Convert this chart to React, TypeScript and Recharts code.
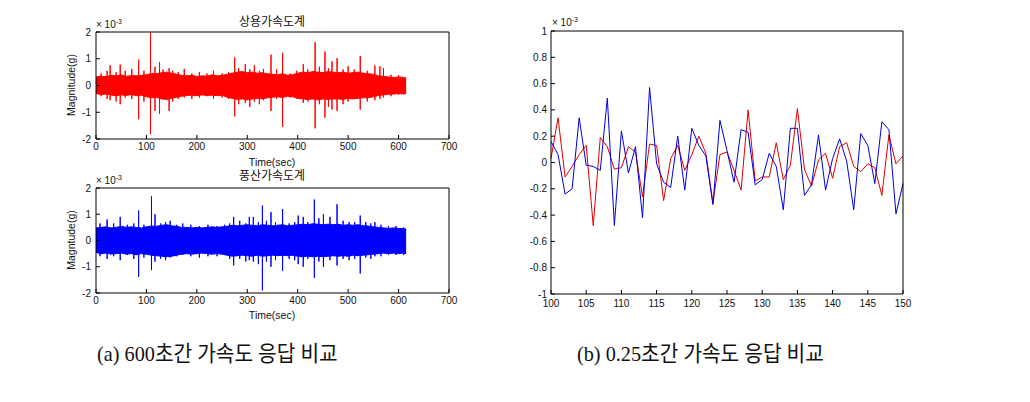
import React from 'react';
import { ComposedChart, Line, Area, XAxis, YAxis } from 'recharts';

// ---------- (a) 600 s records : envelope of dense signal + individual spikes ----------
const envTimes = [0,10,20,30,40,50,60,70,80,90,100,110,120,130,140,150,160,170,180,190,200,210,220,230,240,250,260,270,280,290,300,310,320,330,340,350,360,370,380,390,400,410,420,430,440,450,460,470,480,490,500,510,520,530,540,550,560,570,580,590,600,610,615];

const redHi = [0.32,0.35,0.33,0.38,0.36,0.4,0.34,0.37,0.36,0.38,0.4,0.45,0.44,0.48,0.5,0.46,0.42,0.38,0.36,0.38,0.34,0.36,0.35,0.4,0.36,0.38,0.42,0.46,0.5,0.52,0.48,0.5,0.46,0.48,0.44,0.42,0.4,0.44,0.38,0.4,0.46,0.5,0.48,0.52,0.5,0.48,0.52,0.5,0.48,0.5,0.46,0.48,0.5,0.46,0.44,0.42,0.36,0.34,0.32,0.3,0.32,0.3,0.28];
const redLo = [-0.3,-0.34,-0.32,-0.36,-0.38,-0.35,-0.37,-0.34,-0.38,-0.36,-0.42,-0.46,-0.45,-0.5,-0.52,-0.48,-0.44,-0.4,-0.37,-0.36,-0.38,-0.35,-0.37,-0.36,-0.38,-0.36,-0.44,-0.48,-0.52,-0.5,-0.54,-0.5,-0.48,-0.5,-0.46,-0.44,-0.42,-0.45,-0.4,-0.42,-0.48,-0.5,-0.52,-0.5,-0.54,-0.5,-0.52,-0.5,-0.5,-0.52,-0.48,-0.5,-0.48,-0.46,-0.46,-0.42,-0.38,-0.35,-0.33,-0.32,-0.3,-0.32,-0.3];

const blueHi = [0.48,0.5,0.52,0.48,0.5,0.54,0.5,0.52,0.5,0.48,0.52,0.55,0.54,0.58,0.6,0.56,0.54,0.5,0.5,0.48,0.5,0.48,0.5,0.52,0.5,0.52,0.54,0.58,0.56,0.58,0.6,0.58,0.56,0.6,0.58,0.56,0.58,0.6,0.56,0.58,0.6,0.62,0.6,0.64,0.62,0.6,0.62,0.6,0.62,0.58,0.6,0.58,0.6,0.56,0.55,0.52,0.5,0.48,0.46,0.48,0.46,0.45,0.44];
const blueLo = [-0.46,-0.5,-0.48,-0.52,-0.5,-0.48,-0.52,-0.5,-0.54,-0.5,-0.52,-0.56,-0.58,-0.6,-0.62,-0.6,-0.56,-0.52,-0.5,-0.52,-0.5,-0.48,-0.5,-0.52,-0.5,-0.52,-0.56,-0.6,-0.58,-0.56,-0.58,-0.6,-0.56,-0.6,-0.58,-0.56,-0.58,-0.56,-0.58,-0.56,-0.6,-0.62,-0.6,-0.62,-0.6,-0.62,-0.6,-0.58,-0.6,-0.58,-0.6,-0.56,-0.58,-0.56,-0.54,-0.52,-0.5,-0.48,-0.5,-0.48,-0.5,-0.48,-0.5];

// spikes: [time, peak up, peak down]
const redSpikes: number[][] = [
  [10,0.45,-0.4],[22,0.55,-0.5],[28,0.75,-0.55],[40,0.5,-0.6],[48,0.78,-0.7],[58,0.55,-0.45],[71,0.62,-0.5],
  [84.5,0.97,-1.26],[95,0.55,-0.6],[108,2.0,-1.82],[117,0.7,-0.95],[126,0.88,-1.05],[133,0.6,-0.5],[145,0.65,-0.95],
  [152,0.55,-0.6],[163,0.5,-0.5],[175,0.62,-0.45],[190,0.45,-0.5],[205,0.5,-0.45],[220,0.45,-0.4],[233,0.55,-0.5],
  [250,0.45,-0.45],[263,0.5,-0.5],[275,1.05,-1.15],[283,0.65,-0.7],[296,0.8,-0.65],[305,0.6,-0.8],[314,0.75,-0.6],
  [324,0.55,-0.7],[332,0.62,-0.55],[347,1.15,-0.95],[358,0.6,-0.5],[370,1.22,-1.55],[385,0.45,-0.45],[398,0.55,-0.5],
  [411,0.8,-0.65],[420,0.6,-0.6],[434.5,1.62,-1.6],[443,0.7,-0.7],[454,1.27,-1.2],[461,0.65,-0.8],[468,0.9,-0.9],
  [478,1.02,-0.95],[490,0.6,-0.7],[500,0.72,-0.6],[512,0.6,-0.5],[524,1.1,-0.9],[538,0.55,-0.6],[553,0.75,-0.55],
  [563,0.72,-0.5],[570,0.65,-0.45],[585,0.4,-0.4],[600,0.38,-0.35],
];
const blueSpikes: number[][] = [
  [8,0.65,-0.6],[22,0.8,-0.7],[35,0.65,-0.6],[48,0.9,-0.75],[62,0.6,-0.55],[75,0.65,-0.7],[84.5,1.14,-1.38],
  [95,0.6,-0.65],[110,1.68,-1.13],[117,1.0,-0.8],[128,0.65,-0.7],[138,0.7,-0.75],[147,0.75,-0.65],[160,0.6,-0.6],
  [172,0.65,-0.55],[188,0.6,-0.6],[205,0.55,-0.65],[222,0.6,-0.6],[240,0.55,-0.6],[255,0.6,-0.55],[265,0.65,-0.7],
  [273,0.9,-0.95],[285,0.75,-0.7],[297,0.65,-0.8],[304,0.9,-0.75],[312,0.9,-0.8],[322,0.7,-0.9],[330,1.33,-1.9],
  [338,0.75,-0.8],[347,1.08,-1.0],[356,0.7,-0.75],[370,1.2,-1.15],[383,0.65,-0.7],[394,0.7,-0.75],[401,0.95,-0.9],
  [411,0.9,-1.0],[420,0.7,-0.7],[433,1.56,-1.42],[442,0.85,-0.8],[451,1.0,-1.0],[464,0.9,-0.75],[478,1.38,-0.95],
  [490,0.75,-0.7],[502,0.7,-0.75],[513,0.7,-0.7],[524,0.95,-1.26],[535,0.7,-0.65],[545,0.65,-0.7],[553,0.7,-0.6],
  [565,0.6,-0.6],[580,0.55,-0.55],[595,0.55,-0.55],[610,0.5,-0.55],
];

const longXTicks = [0,100,200,300,400,500,600,700];
const longYTicks = [-2,-1,0,1,2];

// ---------- (b) 0.25 s comparison ----------
const shortT = [100,101,102,103,104,105,106,107,108,109,110,111,112,113,114,115,116,117,118,119,120,121,122,123,124,125,126,127,128,129,130,131,132,133,134,135,136,137,138,139,140,141,142,143,144,145,146,147,148,149,150];
const shortRed = [0.03,0.34,-0.11,-0.03,0.06,0.13,-0.48,0.19,0.12,-0.05,-0.04,0.12,0.08,-0.26,0.14,0.13,-0.29,0.03,0.13,-0.06,0.06,0.2,0.07,-0.31,0.06,0.08,-0.06,-0.21,0.4,-0.14,-0.11,-0.11,0.15,-0.13,-0.02,0.41,-0.05,-0.18,0.02,0.07,-0.12,0.12,0.15,-0.03,-0.07,-0.01,-0.04,-0.25,0.21,-0.01,0.05];
const shortBlue = [0.16,0.06,-0.24,-0.2,0.34,-0.02,-0.03,-0.06,0.49,-0.48,0.24,-0.08,0.12,-0.42,0.57,-0.01,-0.15,-0.19,0.2,-0.21,0.26,0.13,0.05,-0.32,0.32,0.09,-0.15,0.25,0.23,-0.17,-0.13,0.07,-0.03,-0.36,0.26,0.26,-0.25,-0.17,0.21,-0.21,0.03,0.18,0.01,-0.36,0.22,0.13,-0.16,0.31,0.25,-0.39,-0.16];
const shortXTicks = [100,105,110,115,120,125,130,135,140,145,150];
const shortYTicks = [-1,-0.8,-0.6,-0.4,-0.2,0,0.2,0.4,0.6,0.8,1];

const AX = '"Liberation Sans", Arial, sans-serif';
const KR = '"Noto Sans CJK KR", sans-serif';
const SERIF = '"Liberation Serif", "Noto Sans CJK KR", serif';
const tickStyle = { fontSize: 10, fill: '#111', fontFamily: AX };

function buildBand(hi: number[], lo: number[]) {
  return envTimes.map((t, i) => ({ t, range: [lo[i], hi[i]] }));
}
function buildSpikes(sp: number[][]) {
  const out: { t: number; v: number }[] = [];
  sp.forEach(([t, u, d]) => {
    out.push({ t, v: 0 }, { t, v: u }, { t, v: d }, { t, v: 0 });
  });
  return out;
}

function LongWrap({ top, color, hi, lo, spikes, h }: any) {
  const band = buildBand(hi, lo);
  const sp = buildSpikes(spikes);
  // plot area: x 96..449, y top..top+h
  return (
    <div style={{ position: 'absolute', left: 0, top: top - 10 }}>
      <ComposedChart width={460} height={h + 10 + 21} data={band}
        margin={{ top: 9, left: 56, right: 10, bottom: 1 }}>
        <XAxis xAxisId="b" dataKey="t" type="number" domain={[0, 700]} ticks={longXTicks}
          tick={tickStyle} tickSize={-4} tickMargin={8} height={20} stroke="#000" interval={0} />
        <XAxis xAxisId="top" orientation="top" dataKey="t" type="number" domain={[0, 700]} ticks={longXTicks}
          tick={false} tickSize={-4} height={1} stroke="#000" interval={0} />
        <YAxis yAxisId="l" type="number" domain={[-2, 2]} ticks={longYTicks} tick={tickStyle}
          tickSize={-4} tickMargin={9} width={40} stroke="#000" interval={0} />
        <YAxis yAxisId="r" orientation="right" type="number" domain={[-2, 2]} ticks={longYTicks}
          tick={false} tickSize={-4} width={1} stroke="#000" interval={0} />
        <Area xAxisId="b" yAxisId="l" dataKey="range" type="linear" stroke={color} strokeWidth={1}
          fill={color} fillOpacity={1} isAnimationActive={false} dot={false} activeDot={false} />
        <Line xAxisId="b" yAxisId="l" data={sp} dataKey="v" type="linear" stroke={color} strokeWidth={1}
          dot={false} activeDot={false} isAnimationActive={false} />
      </ComposedChart>
    </div>
  );
}

const shortData = shortT.map((t, i) => ({ t, red: shortRed[i], blue: shortBlue[i] }));

function Txt({ x, y, children, size = 10, align = 'center', family = AX, rotate = false }: any) {
  const tr = align === 'center' ? 'translate(-50%,-50%)' : align === 'right' ? 'translate(-100%,-50%)' : 'translate(0,-50%)';
  return (
    <div style={{ position: 'absolute', left: x, top: y, transform: tr + (rotate ? ' rotate(-90deg)' : ''),
      fontSize: size, fontFamily: family, whiteSpace: 'nowrap', lineHeight: 1, color: '#111' }}>{children}</div>
  );
}

const Exp = () => (<span>× 10<sup style={{ fontSize: 7, verticalAlign: 4 }}>-3</sup></span>);

const captionStyle: any = { position: 'absolute', top: 343, fontSize: 22, fontFamily: SERIF, whiteSpace: 'nowrap',
  lineHeight: 1, color: '#111', transform: 'scaleX(0.92)', transformOrigin: 'left center' };

export default function App() {
  return (
    <div style={{ position: 'absolute', left: 0, top: 0, width: 1030, height: 402, background: '#fff', overflow: 'hidden' }}>
      <LongWrap top={32} color="#ff0000" hi={redHi} lo={redLo} spikes={redSpikes} h={107} />
      <LongWrap top={188} color="#0000ff" hi={blueHi} lo={blueLo} spikes={blueSpikes} h={105} />

      <Txt x={272} y={21} size={12} family={KR}>상용가속도계</Txt>
      <Txt x={96} y={24} align="left" size={10}><Exp /></Txt>
      <Txt x={71} y={85} size={10.5} rotate>Magnitude(g)</Txt>
      <Txt x={272} y={162} size={10.5}>Time(sec)</Txt>

      <Txt x={272} y={175} size={12} family={KR}>풍산가속도계</Txt>
      <Txt x={96} y={180} align="left" size={10}><Exp /></Txt>
      <Txt x={71} y={240} size={10.5} rotate>Magntude(g)</Txt>
      <Txt x={272} y={315} size={10.5}>Time(sec)</Txt>

      {/* right */}
      <div style={{ position: 'absolute', left: 500, top: 0 }}>
        <ComposedChart width={420} height={320} data={shortData}
          margin={{ top: 30, left: 11, right: 16, bottom: 6 }}>
          <XAxis xAxisId="b" dataKey="t" type="number" domain={[100, 150]} ticks={shortXTicks}
            tick={tickStyle} tickSize={-4} tickMargin={10} height={20} stroke="#000" interval={0} />
          <XAxis xAxisId="top" orientation="top" dataKey="t" type="number" domain={[100, 150]} ticks={shortXTicks}
            tick={false} tickSize={-4} height={1} stroke="#000" interval={0} />
          <YAxis yAxisId="l" type="number" domain={[-1, 1]} ticks={shortYTicks} tick={tickStyle}
            tickSize={-4} tickMargin={8} width={40} stroke="#000" interval={0} />
          <YAxis yAxisId="r" orientation="right" type="number" domain={[-1, 1]} ticks={shortYTicks}
            tick={false} tickSize={-4} width={1} stroke="#000" interval={0} />
          <Line xAxisId="b" yAxisId="l" dataKey="red" type="linear" stroke="#e00000" strokeWidth={1}
            dot={false} activeDot={false} isAnimationActive={false} />
          <Line xAxisId="b" yAxisId="l" dataKey="blue" type="linear" stroke="#0000dd" strokeWidth={1}
            dot={false} activeDot={false} isAnimationActive={false} />
        </ComposedChart>
      </div>
      <Txt x={552} y={22} align="left" size={10}><Exp /></Txt>

      {/* captions */}
      <div style={{ ...captionStyle, left: 97 }}>(a) 600초간 가속도 응답 비교</div>
      <div style={{ ...captionStyle, left: 577 }}>(b) 0.25초간 가속도 응답 비교</div>
    </div>
  );
}
